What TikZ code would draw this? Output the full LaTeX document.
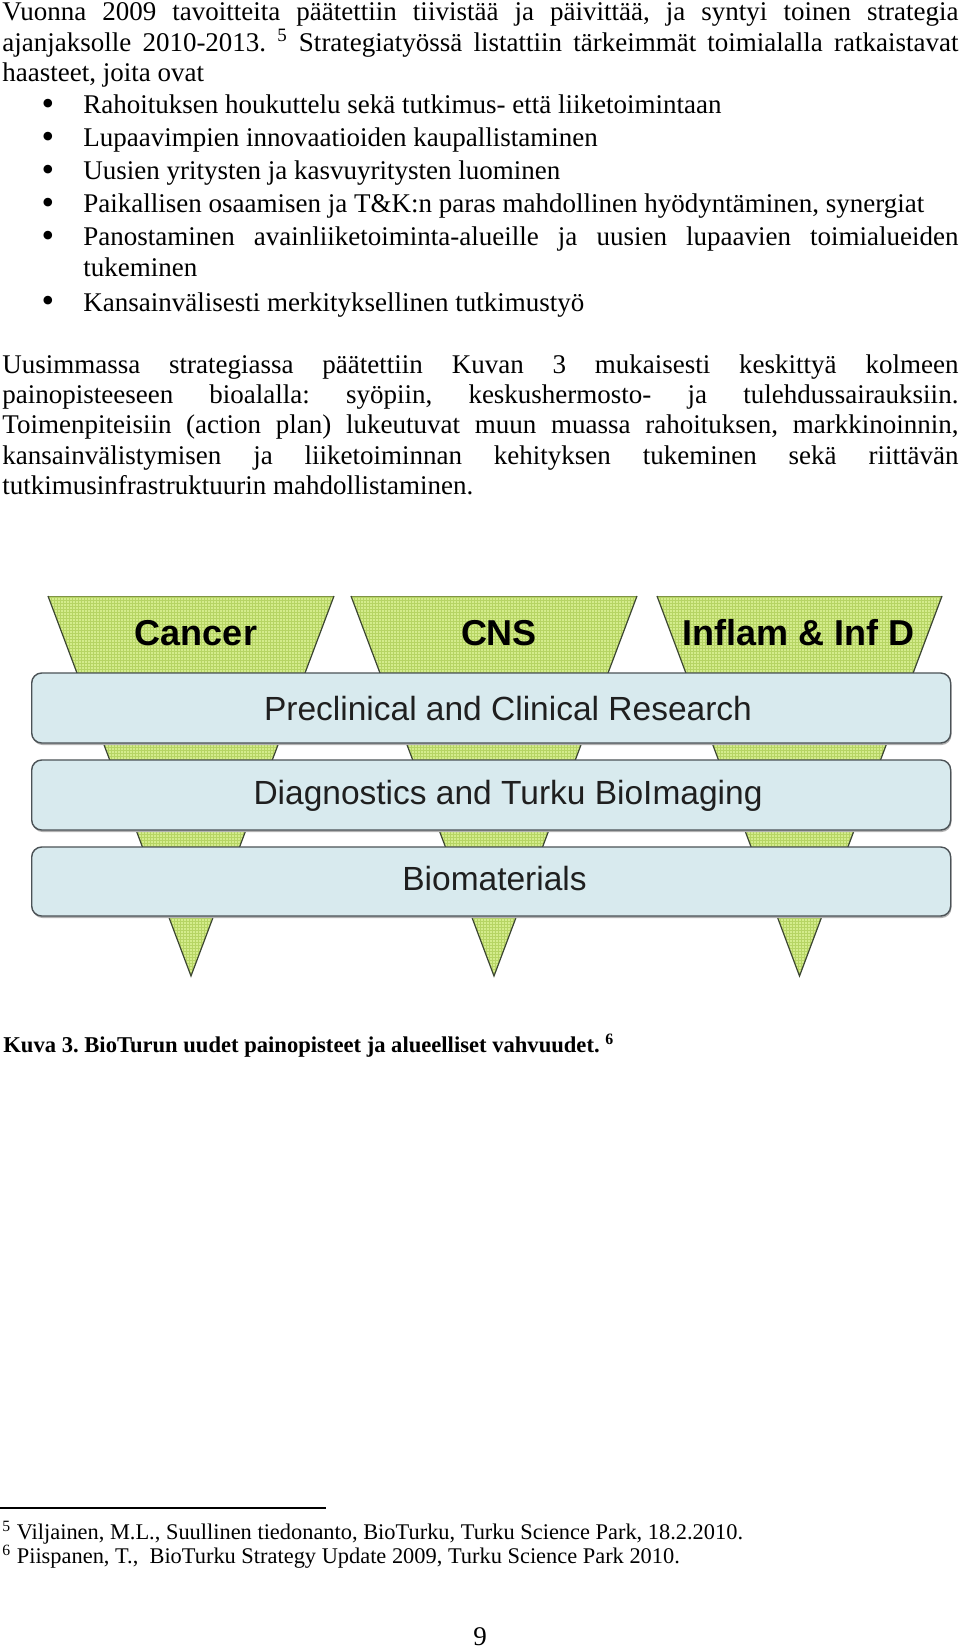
\documentclass[tikz,border=0pt]{standalone}
\usepackage{fontspec}
\setmainfont{Liberation Serif}
\newfontfamily\arialfont{Liberation Sans}
\newcommand\myfs[1]{\fontsize{#1}{#1}\selectfont}
\definecolor{trifill}{RGB}{212,236,140}
\definecolor{trigrid}{RGB}{182,212,100}
\definecolor{triedge}{RGB}{60,70,50}
\definecolor{barfill}{RGB}{216,234,238}
\definecolor{baredge}{RGB}{75,82,86}
\frenchspacing
\begin{document}
\begin{tikzpicture}[x=0.5pt,y=-0.5pt,
  txt/.style={anchor=base west, inner sep=0pt, font=\myfs{13.5}},
  bul/.style={anchor=center, inner sep=0pt, font=\myfs{18}},
  fnote/.style={anchor=base west, inner sep=0pt, font=\myfs{11.2}},
  bartxt/.style={anchor=base, inner sep=0pt, font=\arialfont\myfs{16.75}, text=black!88},
  cat/.style={anchor=base, inner sep=0pt, font=\arialfont\bfseries\myfs{18}},
  barbox/.style={draw=baredge, fill=barfill, line width=0.7pt, rounded corners=5pt},
  barshadow/.style={fill=black!30, rounded corners=5pt}]
\useasboundingbox (0,0) rectangle (960,1648);
\fill[white] (0,0) rectangle (960,1648);

% ---- paragraph 1
\node[txt] (l1) at (2,20.7) {\makebox[478pt][s]{Vuonna 2009 tavoitteita päätettiin tiivistää ja päivittää, ja syntyi toinen strategia}};
\node[txt] (l2) at (2,51.7) {\makebox[478pt][s]{ajanjaksolle 2010-2013. \textsuperscript{5} Strategiatyössä listattiin tärkeimmät toimialalla ratkaistavat}};
\node[txt] (l3) at (2,81.7) {haasteet, joita ovat};

% ---- bullets
\foreach \y in {114,146.7,180,212.5,245.7,311}{
  \node[bul] at (48,\y-6.5) {•};
}
\node[txt] (b1) at (83,114) {Rahoituksen houkuttelu sekä tutkimus- että liiketoimintaan};
\node[txt] (b2) at (83,146.7) {Lupaavimpien innovaatioiden kaupallistaminen};
\node[txt] (b3) at (83,180) {Uusien yritysten ja kasvuyritysten luominen};
\node[txt] (b4) at (83,212.5) {Paikallisen osaamisen ja T\&K:n paras mahdollinen hyödyntäminen, synergiat};
\node[txt] (b5) at (83,245.7) {\makebox[437.5pt][s]{Panostaminen avainliiketoiminta-alueille ja uusien lupaavien toimialueiden}};
\node[txt] (b5b) at (83,277) {tukeminen};
\node[txt] (b6) at (83,311) {Kansainvälisesti merkityksellinen tutkimustyö};

% ---- paragraph 2
\node[txt] (p1) at (2,373) {\makebox[478pt][s]{Uusimmassa strategiassa päätettiin Kuvan 3 mukaisesti keskittyä kolmeen}};
\node[txt] (p2) at (2,403.5) {\makebox[478pt][s]{painopisteeseen bioalalla: syöpiin, keskushermosto- ja tulehdussairauksiin.}};
\node[txt] (p3) at (2,433.5) {\makebox[478pt][s]{Toimenpiteisiin (action plan) lukeutuvat muun muassa rahoituksen, markkinoinnin,}};
\node[txt] (p4) at (2,464) {\makebox[478pt][s]{kansainvälistymisen ja liiketoiminnan kehityksen tukeminen sekä riittävän}};
\node[txt] (p5) at (2,494.5) {tutkimusinfrastruktuurin mahdollistaminen.};

% ---- triangles
\foreach \l/\r/\c in {48/334/191, 351/637/494, 657/942/799.5}{
  \fill[trifill] (\l,596) -- (\r,596) -- (\c,976) -- cycle;
  \begin{scope}
    \clip (\l,596) -- (\r,596) -- (\c,976) -- cycle;
    \draw[trigrid, line width=0.3pt, step=1.5pt] (\l-4,590) grid (\r+4,980);
  \end{scope}
  \draw[trigrid!70!black, line width=0.5pt] (\l,596) -- (\r,596);
  \draw[triedge, line width=0.6pt] (\r,596) -- (\c,976) -- (\l,596);
}
\node[cat] (cancer) at (196,645) {Cancer};
\node[cat] (cns) at (499,645) {CNS};
\node[cat] (inflam) at (798,645) {Inflam \& Inf D};

% ---- bars
\foreach \t/\b in {673/743, 760/830, 847/916}{
  \fill[barshadow] (32.5,\t+2) rectangle (951.5,\b+2);
  \path[barbox] (31.7,\t) rectangle (950.7,\b);
}
\node[bartxt] (pre) at (508,720.7) {Preclinical and Clinical Research};
\node[bartxt] (diag) at (508,804) {Diagnostics and Turku BioImaging};
\node[bartxt] (bio) at (494.5,890.7) {Biomaterials};

% ---- caption
\node[txt, font=\myfs{11.3}\bfseries] (cap) at (3,1052) {Kuva 3. BioTurun uudet painopisteet ja alueelliset vahvuudet. \textsuperscript{6}};

% ---- footnotes
\draw[line width=1pt] (0,1508) -- (326,1508);
\node[fnote] (f1) at (2,1539) {\textsuperscript{5} Viljainen, M.L., Suullinen tiedonanto, BioTurku, Turku Science Park, 18.2.2010.};
\node[fnote] (f2) at (2,1563) {\textsuperscript{6} Piispanen, T.,\ \ BioTurku Strategy Update 2009, Turku Science Park 2010.};

\node[anchor=base, inner sep=0pt, font=\myfs{13.5}] (pg) at (480,1645) {9};
\end{tikzpicture}
\end{document}
